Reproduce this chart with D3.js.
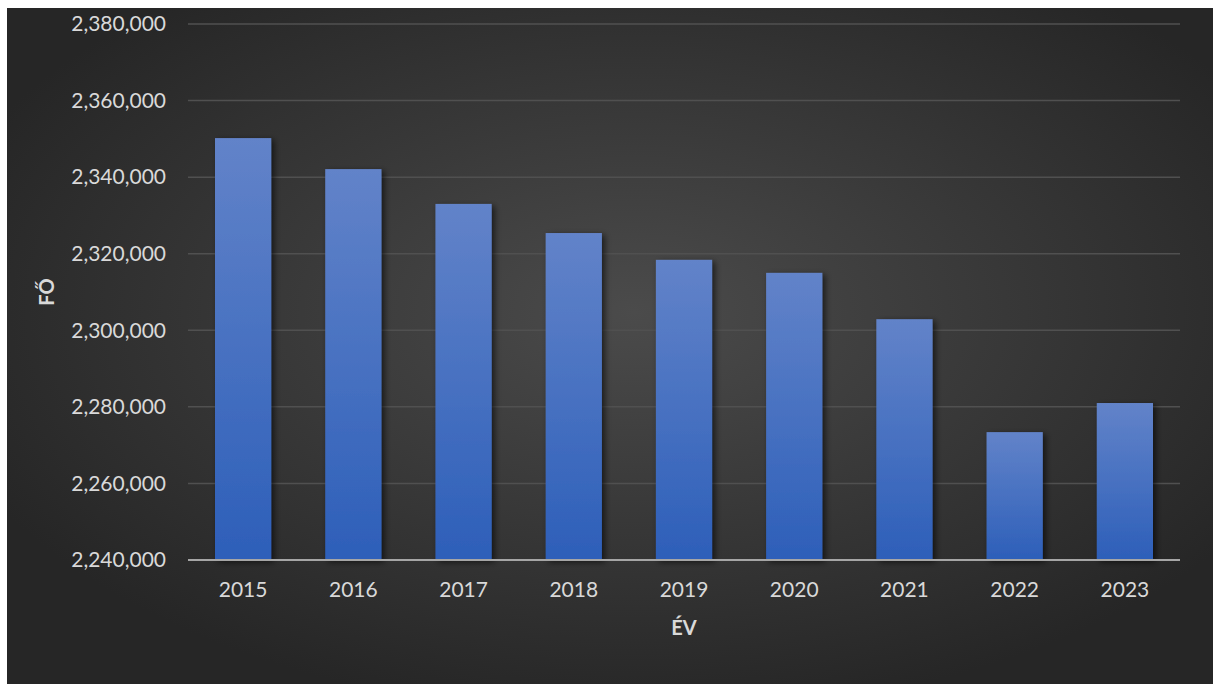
<!DOCTYPE html>
<html>
<head>
<meta charset="utf-8">
<script src="https://cdn.jsdelivr.net/npm/d3@7"></script>
<style>
  html, body { margin: 0; padding: 0; background: #ffffff; }
  svg { display: block; font-family: Lato, "Open Sans", sans-serif; }
</style>
</head>
<body>
<div id="chart"></div>
<script>
// data
const years = ['2015', '2016', '2017', '2018', '2019', '2020', '2021', '2022', '2023'];
const values = [2350200, 2342100, 2333000, 2325400, 2318400, 2315000, 2302900, 2273400, 2281000];
const yTicks = [2240000, 2260000, 2280000, 2300000, 2320000, 2340000, 2360000, 2380000];

const W = 1213, H = 684;
const m = {left: 188, right: 33, top: 24, bottom: 124};

const svg = d3.select('#chart').append('svg')
    .attr('width', W)
    .attr('height', H);

const defs = svg.append('defs');

// background gradient
const bg = defs.append('radialGradient')
    .attr('id', 'bg')
    .attr('cx', '52%').attr('cy', '45%').attr('r', '60%');
bg.append('stop').attr('offset', '0%').attr('stop-color', '#4b4b4b');
bg.append('stop').attr('offset', '100%').attr('stop-color', '#262626');

// bar gradient
const bar = defs.append('linearGradient')
    .attr('id', 'bar')
    .attr('x1', 0).attr('y1', 0).attr('x2', 0).attr('y2', 1);
bar.append('stop').attr('offset', '0%').attr('stop-color', '#6283c9');
bar.append('stop').attr('offset', '100%').attr('stop-color', '#2d5fb9');

const shadow = defs.append('filter')
    .attr('id', 'shadow')
    .attr('x', '-30%').attr('y', '-10%').attr('width', '160%').attr('height', '120%');
shadow.append('feDropShadow')
    .attr('dx', 3).attr('dy', 2).attr('stdDeviation', 3)
    .attr('flood-color', '#000').attr('flood-opacity', 0.6);

svg.append('rect')
    .attr('x', 7).attr('y', 8)
    .attr('width', W - 7).attr('height', H - 8)
    .attr('fill', 'url(#bg)');

const x = d3.scaleBand()
    .domain(years)
    .range([m.left, W - m.right])
    .paddingInner(0.49)
    .paddingOuter(0.245);

const y = d3.scaleLinear()
    .domain([2240000, 2380000])
    .range([H - m.bottom, m.top]);

// gridlines
svg.append('g')
    .selectAll('line')
    .data(yTicks.slice(1))
    .enter()
    .append('line')
    .attr('x1', m.left)
    .attr('x2', W - m.right)
    .attr('y1', d => y(d))
    .attr('y2', d => y(d))
    .attr('stroke', '#505050')
    .attr('stroke-width', 1.5);

// bars
svg.append('g')
    .selectAll('rect')
    .data(values)
    .enter()
    .append('rect')
    .attr('x', (d, i) => x(years[i]))
    .attr('y', d => y(d))
    .attr('width', x.bandwidth())
    .attr('height', d => y(2240000) - y(d))
    .attr('fill', 'url(#bar)')
    .attr('filter', 'url(#shadow)');

// baseline
svg.append('line')
    .attr('x1', m.left)
    .attr('x2', W - m.right)
    .attr('y1', y(2240000))
    .attr('y2', y(2240000))
    .attr('stroke', '#a6a6a6')
    .attr('stroke-width', 2);

// y axis
const yAxis = d3.axisLeft(y)
    .tickValues(yTicks)
    .tickFormat(d3.format(','))
    .tickSize(0)
    .tickPadding(22);

svg.append('g')
    .attr('transform', `translate(${m.left},0)`)
    .call(yAxis)
    .call(g => g.select('.domain').remove())
    .selectAll('text')
    .attr('fill', '#d9d9d9')
    .style('font-size', '21px')
    .style('font-family', 'Lato, sans-serif');

// x axis
const xAxis = d3.axisBottom(x).tickSize(0).tickPadding(22);

svg.append('g')
    .attr('transform', `translate(0,${y(2240000)})`)
    .call(xAxis)
    .call(g => g.select('.domain').remove())
    .selectAll('text')
    .attr('fill', '#d9d9d9')
    .style('font-size', '21px')
    .style('font-family', 'Lato, sans-serif');

// axis titles
svg.append('text')
    .attr('transform', `translate(54,${(m.top + H - m.bottom) / 2}) rotate(-90)`)
    .attr('text-anchor', 'middle')
    .attr('fill', '#d9d9d9')
    .style('font-size', '20px')
    .style('font-weight', 'bold')
    .text('FŐ');

svg.append('text')
    .attr('x', (m.left + W - m.right) / 2)
    .attr('y', 635)
    .attr('text-anchor', 'middle')
    .attr('fill', '#d9d9d9')
    .style('font-size', '20px')
    .style('font-weight', 'bold')
    .text('ÉV');
</script>
</body>
</html>
